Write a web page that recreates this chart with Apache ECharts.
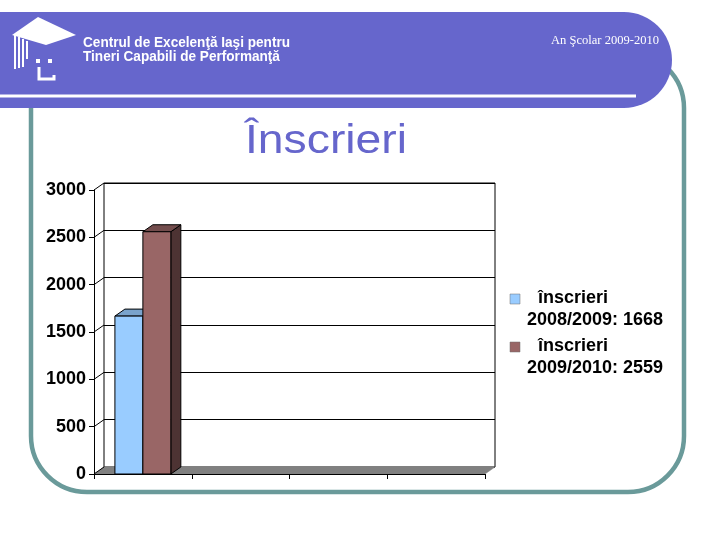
<!DOCTYPE html>
<html>
<head>
<meta charset="utf-8">
<script src="https://cdn.jsdelivr.net/npm/echarts@6/dist/echarts.min.js"></script>
<style>html,body{margin:0;padding:0;background:#fff;}#c{width:720px;height:540px;}</style>
</head>
<body>
<div id="c"></div>
<script>
// ---- data ----
const categories = ['', '', '', ''];
const seriesNames = ['înscrieri 2008/2009', 'înscrieri 2009/2010'];
const values2008 = [1668, null, null, null];
const values2009 = [2559, null, null, null];
const yTicks = [0, 500, 1000, 1500, 2000, 2500, 3000];
const titleText = 'Înscrieri';
const headerLines = ['Centrul de Excelenţă Iaşi pentru', 'Tineri Capabili de Performanţă'];
const yearText = 'An Şcolar 2009-2010';

// ---- styling ----
const DX = 10, DY = -7;
const BAR_FRAC = 0.286;
const palette = [
  { front: '#99CCFF', top: '#7AA3CC', side: '#5C7A99' },
  { front: '#996666', top: '#734D4D', side: '#4D3333' }
];
const PURPLE = '#6666CC';
const TEAL = '#6A9A9A';

function measure(text, font) {
  const c = document.createElement('canvas').getContext('2d');
  c.font = font;
  return c.measureText(text).width;
}

function barRenderer(idx) {
  const col = palette[idx];
  return function (params, api) {
    const cat = api.value(0), val = api.value(1);
    const top = api.coord([cat, val]);
    const base = api.coord([cat, 0]);
    const bw = api.size([1, 0])[0];
    const w = bw * BAR_FRAC;
    const x0 = top[0] - w + idx * w;
    const x1 = x0 + w;
    const yT = top[1], yB = base[1];
    const st = { stroke: '#000', lineWidth: 1 };
    return {
      type: 'group',
      children: [
        { type: 'polygon', shape: { points: [[x1, yT], [x1 + DX, yT + DY], [x1 + DX, yB + DY], [x1, yB]] },
          style: Object.assign({ fill: col.side }, st) },
        { type: 'polygon', shape: { points: [[x0, yT], [x1, yT], [x1 + DX, yT + DY], [x0 + DX, yT + DY]] },
          style: Object.assign({ fill: col.top }, st) },
        { type: 'rect', shape: { x: x0, y: yT, width: w, height: yB - yT },
          style: Object.assign({ fill: col.front }, st) }
      ]
    };
  };
}

const chart = echarts.init(document.getElementById('c'), null, { renderer: 'canvas' });

// header text scaling
const hFont = 'bold 14px "Liberation Sans"';
const hScale = 207 / measure(headerLines[0], hFont);
const tFont = '40px "Liberation Sans"';
const tScale = 162 / measure(titleText, tFont);
const yFont = '12px "Liberation Serif"';
const yScale = 108 / measure(yearText, yFont);

const legendVals = [values2008[0], values2009[0]];
const legendGraphics = [];
seriesNames.forEach((n, i) => {
  const parts = n.split(' ');
  const y0 = 299 + i * 48;
  legendGraphics.push(
    { type: 'rect', shape: { x: 510, y: y0 - 5, width: 10, height: 10 }, style: { fill: palette[i].front, stroke: '#6f6f6f', lineWidth: 0.5 }, z: 10 },
    { type: 'text', x: 538, y: y0 - 1, style: { text: parts[0], font: 'bold 18px "Liberation Sans"', fill: '#000', align: 'left', verticalAlign: 'middle' }, z: 10 },
    { type: 'text', x: 527, y: y0 + 21, style: { text: parts.slice(1).join(' ') + ': ' + legendVals[i], font: 'bold 18px "Liberation Sans"', fill: '#000', align: 'left', verticalAlign: 'middle' }, z: 10 }
  );
});

const option = {
  animation: false,
  backgroundColor: '#fff',
  graphic: [
    // frame
    { type: 'rect', shape: { x: 31, y: 52, width: 653, height: 440, r: 56 }, style: { fill: 'none', stroke: TEAL, lineWidth: 4.5 }, z: 0 },
    // banner
    { type: 'rect', shape: { x: 0, y: 12, width: 672, height: 96, r: [0, 48, 48, 0] }, style: { fill: PURPLE }, z: 1 },
    { type: 'rect', shape: { x: 0, y: 94.5, width: 636, height: 3 }, style: { fill: '#fff' }, z: 2 },
    // logo
    { type: 'polygon', shape: { points: [[12, 35], [38, 17], [76, 35], [46, 45]] }, style: { fill: '#fff' }, z: 2 },
    { type: 'rect', shape: { x: 14, y: 35, width: 2, height: 34 }, style: { fill: '#fff' }, z: 2 },
    { type: 'rect', shape: { x: 18, y: 37, width: 2, height: 31 }, style: { fill: '#fff' }, z: 2 },
    { type: 'rect', shape: { x: 22, y: 39, width: 2, height: 28 }, style: { fill: '#fff' }, z: 2 },
    { type: 'rect', shape: { x: 26, y: 41, width: 2, height: 18 }, style: { fill: '#fff' }, z: 2 },
    { type: 'rect', shape: { x: 36, y: 59, width: 4, height: 4 }, style: { fill: '#fff' }, z: 2 },
    { type: 'rect', shape: { x: 48, y: 59, width: 4, height: 4 }, style: { fill: '#fff' }, z: 2 },
    { type: 'polyline', shape: { points: [[39, 67], [39, 79], [54, 79], [54, 75]] }, style: { stroke: '#fff', lineWidth: 3, fill: 'none' }, z: 2 },
    // header texts
    { type: 'text', x: 83, y: 43, scaleX: hScale, style: { text: headerLines[0], font: hFont, fill: '#fff', align: 'left', verticalAlign: 'middle' }, z: 3 },
    { type: 'text', x: 83, y: 57.5, scaleX: hScale, style: { text: headerLines[1], font: hFont, fill: '#fff', align: 'left', verticalAlign: 'middle' }, z: 3 },
    { type: 'text', x: 659, y: 41, scaleX: yScale, style: { text: yearText, font: yFont, fill: '#fff', align: 'right', verticalAlign: 'middle' }, z: 3 },
    // title
    { type: 'text', x: 326, y: 142, scaleX: tScale, style: { text: titleText, font: tFont, fill: PURPLE, align: 'center', verticalAlign: 'middle' }, z: 3 }
  ].concat(legendGraphics),
  grid: [
    { left: 94 + DX, top: 190 + DY, width: 391, height: 284, show: true, borderColor: '#000', borderWidth: 1, backgroundColor: '#fff' },
    { left: 94, top: 190, width: 391, height: 284 }
  ],
  xAxis: [
    { type: 'category', gridIndex: 0, data: categories, show: false },
    { type: 'category', gridIndex: 1, data: categories, z: 5,
      axisLine: { lineStyle: { color: '#000', width: 1 } },
      axisTick: { show: true, length: 5, lineStyle: { color: '#000' } },
      axisLabel: { show: false } }
  ],
  yAxis: [
    { type: 'value', gridIndex: 0, min: 0, max: 3000, interval: 500,
      axisLine: { show: false }, axisTick: { show: false }, axisLabel: { show: false },
      splitLine: { show: true, lineStyle: { color: '#000', width: 1 } } },
    { type: 'value', gridIndex: 1, min: 0, max: 3000, interval: 500, z: 5,
      axisLine: { show: true, lineStyle: { color: '#000', width: 1 } },
      axisTick: { show: true, length: 5, lineStyle: { color: '#000' } },
      axisLabel: { margin: 8, color: '#000', fontFamily: 'Liberation Sans', fontWeight: 'bold', fontSize: 18,
        formatter: function (v) { return String(v); } },
      splitLine: { show: false } }
  ],
  series: [
    { type: 'custom', name: 'floor', xAxisIndex: 1, yAxisIndex: 1, clip: false, silent: true,
      data: [[0, 0]],
      renderItem: function (params, api) {
        const bw = api.size([1, 0])[0];
        const p0 = api.coord([0, 0]);
        const p1 = api.coord([categories.length - 1, 0]);
        const l = p0[0] - bw / 2, r = p1[0] + bw / 2, y = p0[1];
        return { type: 'polygon', shape: { points: [[l, y], [r, y], [r + DX, y + DY], [l + DX, y + DY]] },
          style: { fill: '#808080', stroke: '#808080', lineWidth: 0.5 } };
      } },
    { type: 'custom', name: 'depth', xAxisIndex: 1, yAxisIndex: 1, clip: false, silent: true,
      data: yTicks.map(v => [0, v]),
      renderItem: function (params, api) {
        const bw = api.size([1, 0])[0];
        const p = api.coord([0, api.value(1)]);
        const l = p[0] - bw / 2;
        return { type: 'line', shape: { x1: l, y1: p[1], x2: l + DX, y2: p[1] + DY },
          style: { stroke: '#000', lineWidth: 1 } };
      } },
    { type: 'custom', name: seriesNames[0], xAxisIndex: 1, yAxisIndex: 1, clip: false,
      itemStyle: { color: palette[0].front },
      data: values2008.map((v, i) => [i, v]).filter(d => d[1] != null),
      renderItem: barRenderer(0) },
    { type: 'custom', name: seriesNames[1], xAxisIndex: 1, yAxisIndex: 1, clip: false,
      itemStyle: { color: palette[1].front },
      data: values2009.map((v, i) => [i, v]).filter(d => d[1] != null),
      renderItem: barRenderer(1) }
  ]
};
chart.setOption(option);
</script>
</body>
</html>
